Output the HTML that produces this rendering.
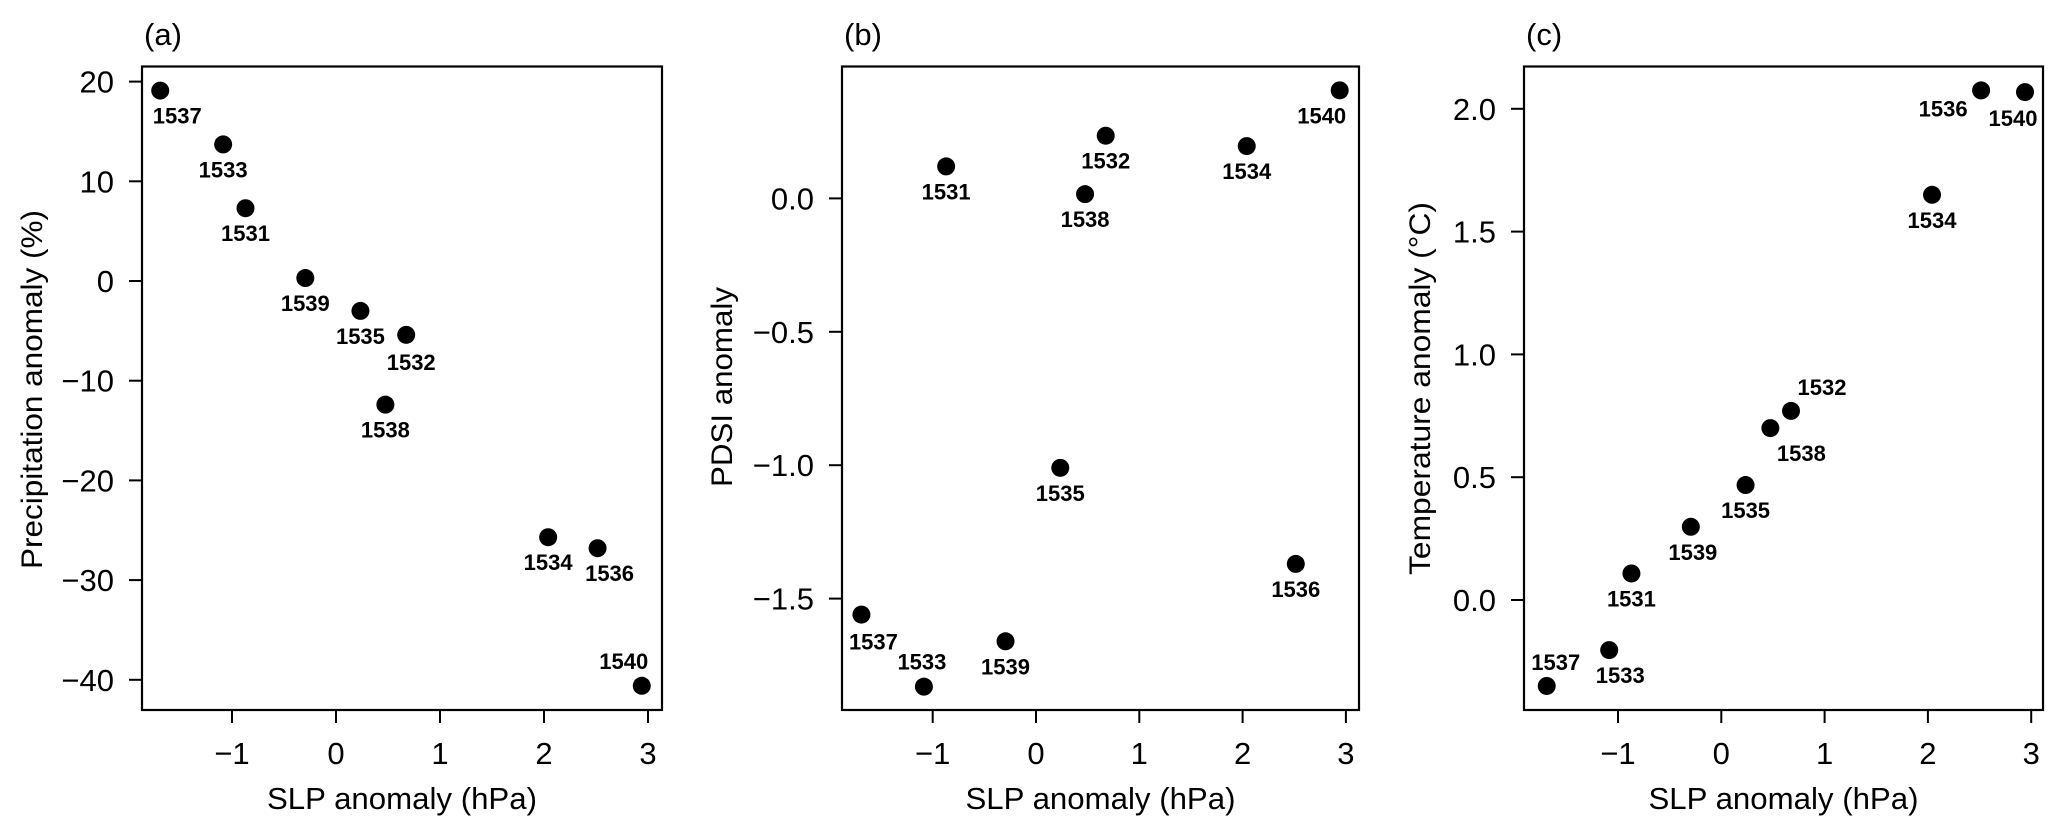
<!DOCTYPE html>
<html><head><meta charset="utf-8"><style>
html,body{margin:0;padding:0;background:#fff;}
svg{display:block;font-family:"Liberation Sans",Arial,sans-serif;}
</style></head><body>
<svg id="fig" width="2067" height="830" viewBox="0 0 2067 830" xmlns="http://www.w3.org/2000/svg"></svg>
<script>
// Shared data
const years = ["1531","1532","1533","1534","1535","1536","1537","1538","1539","1540"];
const slp = [-0.87, 0.675, -1.085, 2.04, 0.235, 2.515, -1.69, 0.475, -0.295, 2.94];
const precip = [7.3, -5.4, 13.7, -25.7, -3.0, -26.8, 19.1, -12.4, 0.3, -40.6];
const pdsi = [0.12, 0.235, -1.83, 0.196, -1.01, -1.37, -1.56, 0.016, -1.66, 0.405];
const temp = [0.108, 0.77, -0.204, 1.65, 0.468, 2.075, -0.35, 0.70, 0.298, 2.068];
const xTicks = [-1, 0, 1, 2, 3];
const xTickLabels = ["\u22121", "0", "1", "2", "3"];
const precipTicks = [20, 10, 0, -10, -20, -30, -40];
const precipTickLabels = ["20", "10", "0", "\u221210", "\u221220", "\u221230", "\u221240"];
const pdsiTicks = [0, -0.5, -1.0, -1.5];
const pdsiTickLabels = ["0.0", "\u22120.5", "\u22121.0", "\u22121.5"];
const tempTicks = [0, 0.5, 1.0, 1.5, 2.0];
const tempTickLabels = ["0.0", "0.5", "1.0", "1.5", "2.0"];

const NS = "http://www.w3.org/2000/svg";
const svg = document.getElementById("fig");
function mk(tag, attrs, parent) {
  const e = document.createElementNS(NS, tag);
  for (const k in attrs) e.setAttribute(k, attrs[k]);
  (parent || svg).appendChild(e);
  return e;
}

const panels = [
  { id: "a", left: 142, right: 662, x0: 336, xs: 104, y0: 281, ys: 9.97,
    yvals: precip, ticks: precipTicks, tickLabels: precipTickLabels,
    title: "Precipitation anomaly (%)", tcx: 32, tcy: 389.5, tlen: 359,
    lab: { "1531":[0,25], "1532":[5,27], "1533":[0,25], "1534":[0,25], "1535":[0,25],
           "1536":[12,25], "1537":[17,25], "1538":[0,25], "1539":[0,25], "1540":[-18,-25] } },
  { id: "b", left: 842, right: 1359, x0: 1036, xs: 103.3, y0: 198.4, ys: 266.8,
    yvals: pdsi, ticks: pdsiTicks, tickLabels: pdsiTickLabels,
    title: "PDSI anomaly", tcx: 722, tcy: 387, tlen: 200,
    lab: { "1531":[0,25], "1532":[0,25], "1533":[-2,-25], "1534":[0,25], "1535":[0,25],
           "1536":[0,25], "1537":[12,27], "1538":[0,25], "1539":[0,25], "1540":[-18,25] } },
  { id: "c", left: 1524, right: 2043, x0: 1721.3, xs: 103.3, y0: 600, ys: 245.6,
    yvals: temp, ticks: tempTicks, tickLabels: tempTickLabels,
    title: "Temperature anomaly (\u00B0C)", tcx: 1420, tcy: 388.5, tlen: 373,
    lab: { "1531":[0,25], "1532":[31,-24], "1533":[11,25], "1534":[0,25], "1535":[0,25],
           "1536":[-38,18], "1537":[9,-24], "1538":[31,25], "1539":[2,25], "1540":[-12,26] } }
];
const TOP = 66.5, BOTTOM = 710;

panels.forEach(p => {
  const g = mk("g", {});
  
  
  const X = v => p.x0 + v * p.xs;
  const Y = v => p.y0 - v * p.ys;

  const box = mk("rect", { x: p.left, y: TOP, width: p.right - p.left, height: BOTTOM - TOP, fill: "none", stroke: "#000", "stroke-width": 2.2 }, g);
  
  

  const pl = mk("text", { x: p.left + 2, y: 45, "font-size": 31, fill: "#000" }, g);
  pl.textContent = "(" + p.id + ")";
  
  

  xTicks.forEach((t, i) => {
    const x = X(t);
    const tk = mk("line", { x1: x, x2: x, y1: BOTTOM, y2: BOTTOM + 13, stroke: "#000", "stroke-width": 2 }, g);
    
    
    const tl = mk("text", { x: x, y: 764, "font-size": 31, "text-anchor": "middle", fill: "#000" }, g);
    tl.textContent = xTickLabels[i];
    
    
  });

  p.ticks.forEach((t, i) => {
    const y = Y(t);
    const tk = mk("line", { x1: p.left - 13, x2: p.left, y1: y, y2: y, stroke: "#000", "stroke-width": 2 }, g);
    
    
    const tl = mk("text", { x: p.left - 28, y: y + 11, "font-size": 31, "text-anchor": "end", fill: "#000" }, g);
    tl.textContent = p.tickLabels[i];
    
    
  });

  const xt = mk("text", { x: (p.left + p.right) / 2, y: 809, "font-size": 31, "text-anchor": "middle", fill: "#000", textLength: 270, lengthAdjust: "spacingAndGlyphs" }, g);
  xt.textContent = "SLP anomaly (hPa)";
  
  

  const bx = p.tcx + 10;
  const yt = mk("text", { x: bx, y: p.tcy, "font-size": 30, "text-anchor": "middle", fill: "#000",
    transform: "rotate(-90 " + bx + " " + p.tcy + ")", textLength: p.tlen, lengthAdjust: "spacingAndGlyphs" }, g);
  yt.textContent = p.title;
  
  

  years.forEach((yr, i) => {
    const cx = X(slp[i]), cy = Y(p.yvals[i]);
    const c = mk("circle", { cx: cx, cy: cy, r: 9, fill: "#000" }, g);
    
    
    const o = p.lab[yr];
    const t = mk("text", { x: cx + o[0], y: cy + o[1] + 8, "font-size": 22, "font-weight": "bold", "text-anchor": "middle", fill: "#000" }, g);
    t.textContent = yr;
    
    
  });
});
</script>
</body></html>
